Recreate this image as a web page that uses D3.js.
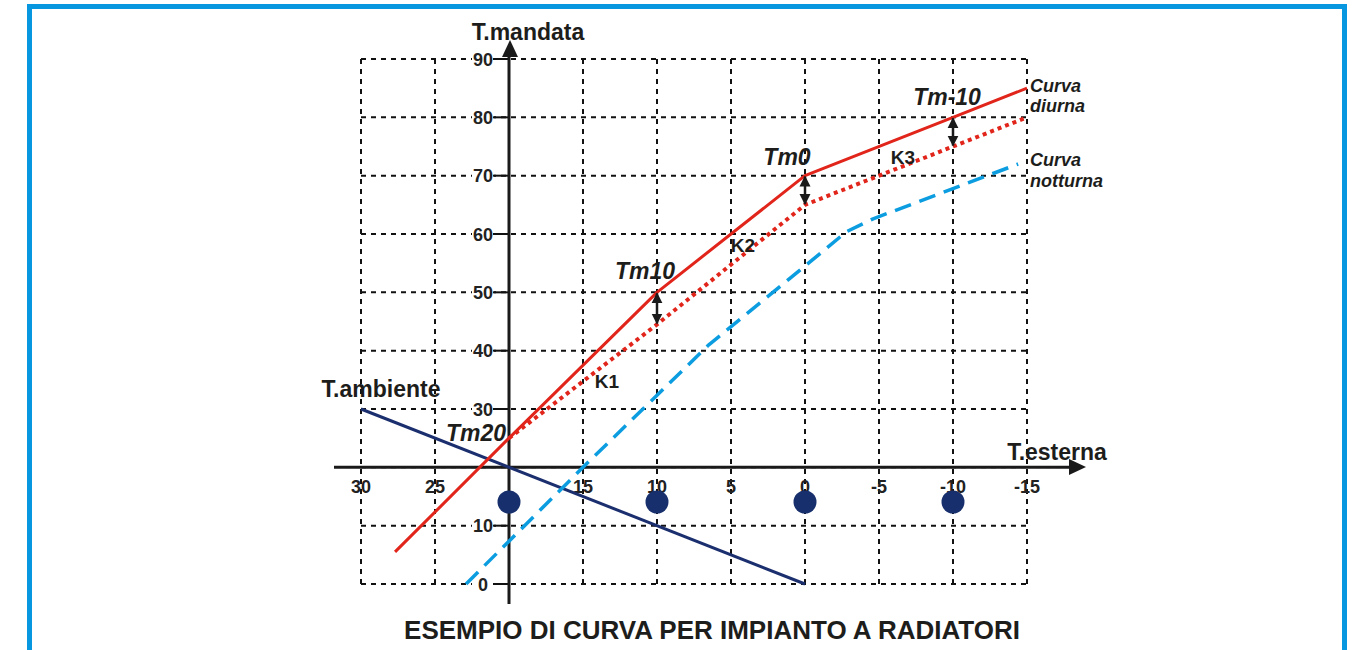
<!DOCTYPE html>
<html>
<head>
<meta charset="utf-8">
<script src="https://cdnjs.cloudflare.com/ajax/libs/d3/7.8.5/d3.min.js"></script>
<style>
  html, body { margin: 0; padding: 0; background: #fff; }
  svg { display: block; }
</style>
</head>
<body>
<script>
// temperatures
const extTicks = [30, 25, 20, 15, 10, 5, 0, -5, -10, -15];
const mandTicks = [90, 80, 70, 60, 50, 40, 30, 20, 10, 0];

const diurnaExt = [27.7, 20, 10, 0, -10, -15];
const diurnaVal = [5.5, 25, 50, 70, 80, 85];

const ridottaExt = [20, 10, 0, -10, -15];
const ridottaVal = [25, 44.5, 65, 75, 80];

const notturnaExt = [22.9, 15, 6.5, 0, -2.8, -4.6, -14.4];
const notturnaVal = [0, 20, 41, 54.5, 60.4, 62.6, 72];

const ambienteExt = [30, 0];
const ambienteVal = [30, 0];

const tmNames = ["Tm20", "Tm10", "Tm0", "Tm-10"];
const kNames = ["K1", "K2", "K3"];
const dotExt = [20, 10, 0, -10];

const width = 1360;
const height = 650;

const x = d3.scaleLinear().domain([30, -15]).range([361, 1027]);
const y = d3.scaleLinear().domain([0, 90]).range([584, 59]);

const svg = d3.select("body").append("svg")
  .attr("width", width)
  .attr("height", height)
  .style("font-family", "'Liberation Sans', Arial, sans-serif");

const defs = svg.append("defs");
defs.append("marker")
  .attr("id", "head")
  .attr("viewBox", "0 0 10 10")
  .attr("refX", 9).attr("refY", 5)
  .attr("markerWidth", 11).attr("markerHeight", 12)
  .attr("markerUnits", "userSpaceOnUse")
  .attr("orient", "auto-start-reverse")
  .append("path").attr("d", "M0,0 L10,5 L0,10 Z").attr("fill", "#1a1a1a");

// blue frame (bottom edge falls outside the picture)
svg.append("path")
  .attr("d", `M29.5,${height + 10} V6.5 H1344.5 V${height + 10}`)
  .attr("fill", "none")
  .attr("stroke", "#0797e1")
  .attr("stroke-width", 5);

// dashed grid
const grid = svg.append("g")
  .attr("stroke", "#111")
  .attr("stroke-width", 2)
  .attr("stroke-dasharray", "5,5");
grid.selectAll("line.v").data(extTicks).join("line")
  .attr("x1", d => x(d)).attr("x2", d => x(d))
  .attr("y1", y(90)).attr("y2", y(0));
grid.selectAll("line.h").data(mandTicks).join("line")
  .attr("x1", x(30)).attr("x2", x(-15))
  .attr("y1", d => y(d)).attr("y2", d => y(d));

// y tick labels
const yLab = mandTicks.filter(d => d !== 20);
const yTicks = svg.append("g").attr("font-weight", "bold").attr("font-size", 18).attr("fill", "#222");
yTicks.selectAll("rect").data(yLab).join("rect")
  .attr("x", x(20) - 37).attr("y", d => y(d) - 8)
  .attr("width", 22).attr("height", 16).attr("fill", "#fff");
yTicks.selectAll("line").data(yLab).join("line")
  .attr("x1", x(20) - 16).attr("x2", x(20))
  .attr("y1", d => y(d)).attr("y2", d => y(d))
  .attr("stroke", "#111").attr("stroke-width", 2);
yTicks.selectAll("text").data(yLab).join("text")
  .attr("x", x(20) - 26).attr("y", d => y(d) + 6.5)
  .attr("text-anchor", "middle")
  .text(d => d);

// x tick labels
svg.append("g").attr("font-weight", "bold").attr("font-size", 18).attr("fill", "#222")
  .selectAll("text").data(extTicks.filter(d => d !== 20)).join("text")
  .attr("x", d => x(d)).attr("y", 493)
  .attr("text-anchor", "middle")
  .text(d => d);

// axes with arrows
svg.append("line")
  .attr("x1", 334).attr("x2", 1072).attr("y1", y(20)).attr("y2", y(20))
  .attr("stroke", "#1a1a1a").attr("stroke-width", 3);
svg.append("path").attr("d", "M1069,459 L1086,467 L1069,475 Z").attr("fill", "#1a1a1a");
svg.append("line")
  .attr("x1", x(20)).attr("x2", x(20)).attr("y1", 604).attr("y2", 55)
  .attr("stroke", "#1a1a1a").attr("stroke-width", 3);
svg.append("path").attr("d", "M502,57 L510,40 L518,57 Z").attr("fill", "#1a1a1a");

const line = d3.line().x(d => x(d[0])).y(d => y(d[1]));

// ambient line
svg.append("path")
  .attr("d", line(d3.zip(ambienteExt, ambienteVal)))
  .attr("fill", "none").attr("stroke", "#1b2f6f").attr("stroke-width", 3);

// night curve
svg.append("path")
  .attr("d", line(d3.zip(notturnaExt, notturnaVal)))
  .attr("fill", "none").attr("stroke", "#0c9de0").attr("stroke-width", 3.5)
  .attr("stroke-linejoin", "round")
  .attr("stroke-dasharray", "17,9");

// reduced day curve (dotted)
svg.append("path")
  .attr("d", line(d3.zip(ridottaExt, ridottaVal)))
  .attr("fill", "none").attr("stroke", "#e1251b").attr("stroke-width", 4)
  .attr("stroke-dasharray", "4,4");

// day curve
svg.append("path")
  .attr("d", line(d3.zip(diurnaExt, diurnaVal)))
  .attr("fill", "none").attr("stroke", "#e1251b").attr("stroke-width", 3)
  .attr("stroke-linejoin", "round");

// double arrows between day and reduced curve
const arrowIdx = [2, 3, 4];
svg.append("g").selectAll("line").data(arrowIdx).join("line")
  .attr("x1", i => x(diurnaExt[i])).attr("x2", i => x(diurnaExt[i]))
  .attr("y1", i => y(diurnaVal[i]) + 1).attr("y2", i => y(ridottaVal[i - 1]) - 1)
  .attr("stroke", "#1a1a1a").attr("stroke-width", 2.5)
  .attr("marker-start", "url(#head)").attr("marker-end", "url(#head)");

// dots under the x axis
svg.append("g").selectAll("circle").data(dotExt).join("circle")
  .attr("cx", d => x(d)).attr("cy", 502).attr("r", 11.5)
  .attr("fill", "#172f6c");

// labels
const lab = (t, px, py, opts = {}) => svg.append("text")
  .attr("x", px).attr("y", py)
  .attr("font-weight", "bold")
  .attr("font-size", opts.size || 19)
  .attr("font-style", opts.italic ? "italic" : "normal")
  .attr("text-anchor", opts.anchor || "middle")
  .attr("fill", "#1d1d1b")
  .text(t);

lab("T.mandata", 528, 40, { size: 23 });
lab("T.esterna", 1057, 460, { size: 23 });
lab("T.ambiente", 381, 397, { size: 23 });

const tmPos = [[476, 441], [645, 279], [787, 165], [947, 105]];
tmNames.forEach((t, i) => lab(t, tmPos[i][0], tmPos[i][1], { size: 23, italic: true }));

const kPos = [[607, 388], [743, 252], [903, 164]];
kNames.forEach((t, i) => lab(t, kPos[i][0], kPos[i][1], { size: 19 }));

lab("Curva", 1030, 92, { size: 18, italic: true, anchor: "start" });
lab("diurna", 1030, 112, { size: 18, italic: true, anchor: "start" });
lab("Curva", 1030, 166, { size: 18, italic: true, anchor: "start" });
lab("notturna", 1030, 187, { size: 18, italic: true, anchor: "start" });

lab("ESEMPIO DI CURVA PER IMPIANTO A RADIATORI", 712, 639, { size: 26 });
</script>
</body>
</html>
